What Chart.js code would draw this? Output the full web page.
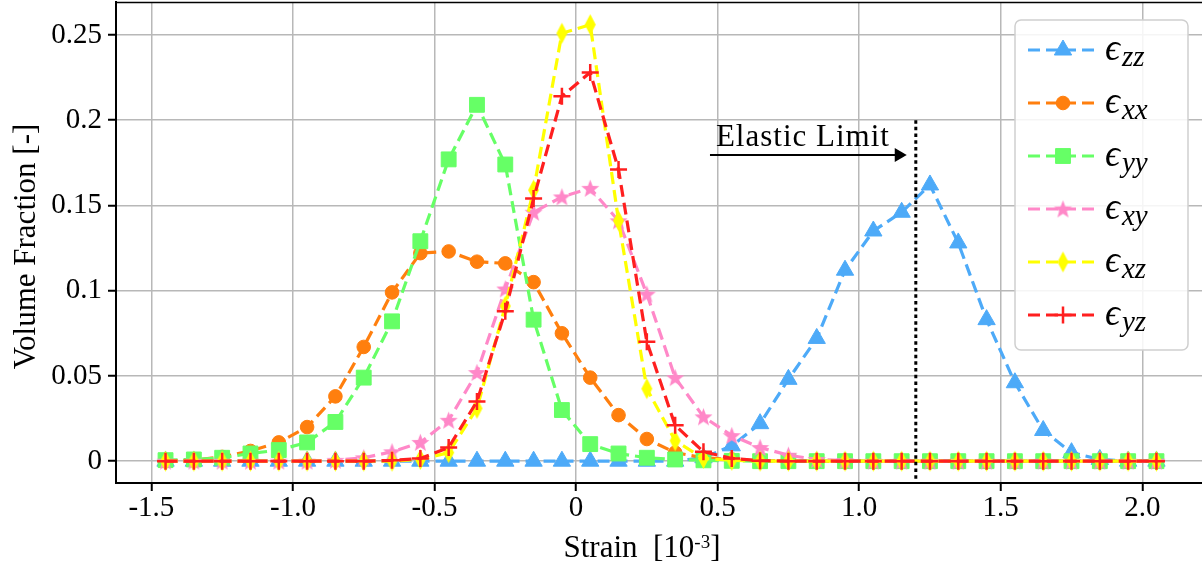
<!DOCTYPE html>
<html lang="en">
  <head>
    <meta charset="UTF-8" />
    <style>
      html,
      body {
        margin: 0;
        padding: 0;
        background: #fff;
        overflow: hidden;
      }
      #wrap {
        width: 1210px;
        height: 569px;
      }
    </style>
    <title>Strain distribution</title>
  </head>
  <body>
    <div id="wrap"><canvas id="graph"></canvas></div>

    <script src="https://cdn.jsdelivr.net/npm/chart.js"></script>
    <script>
      // strain bins [1e-3]
      const strain = [
        -1.45, -1.35, -1.25, -1.15, -1.05, -0.95, -0.85, -0.75, -0.65, -0.55,
        -0.45, -0.35, -0.25, -0.15, -0.05, 0.05, 0.15, 0.25, 0.35, 0.45, 0.55,
        0.65, 0.75, 0.85, 0.95, 1.05, 1.15, 1.25, 1.35, 1.45, 1.55, 1.65, 1.75,
        1.85, 1.95, 2.05,
      ];

      // volume fractions per strain component
      const ezz = [
        0, 0, 0, 0, 0, 0, 0, 0, 0, 0, 0, 0, 0, 0, 0, 0, 0, 0, 0, 0.002, 0.009,
        0.022, 0.048, 0.072, 0.112, 0.135, 0.146, 0.162, 0.128, 0.083, 0.046,
        0.018, 0.005, 0.001, 0, 0,
      ];
      const exx = [
        0, 0.0006, 0.0025, 0.006, 0.011, 0.02, 0.038, 0.067, 0.099, 0.122,
        0.123, 0.117, 0.116, 0.105, 0.075, 0.049, 0.027, 0.013, 0.005, 0.002,
        0.001, 0.0003, 0, 0, 0, 0, 0, 0, 0, 0, 0, 0, 0, 0, 0, 0,
      ];
      const eyy = [
        0.0006, 0.001, 0.002, 0.0045, 0.0065, 0.011, 0.023, 0.049, 0.082, 0.129,
        0.177, 0.209, 0.174, 0.083, 0.03, 0.01, 0.0045, 0.002, 0.001, 0.0005,
        0.0002, 0, 0, 0, 0, 0, 0, 0, 0, 0, 0, 0, 0, 0, 0, 0,
      ];
      const exy = [
        0, 0, 0, 0, 0, 0, 0.0005, 0.002, 0.0055, 0.011, 0.024, 0.052, 0.101,
        0.146, 0.155, 0.16, 0.141, 0.098, 0.049, 0.026, 0.015, 0.008, 0.0035,
        0.001, 0.0003, 0, 0, 0, 0, 0, 0, 0, 0, 0, 0, 0,
      ];
      const exz = [
        0, 0, 0, 0, 0, 0, 0, 0, 0, 0.001, 0.005, 0.031, 0.091, 0.159, 0.251,
        0.256, 0.141, 0.0425, 0.012, 0.0016, 0.0005, 0, 0, 0, 0, 0, 0, 0, 0, 0,
        0, 0, 0, 0, 0, 0,
      ];
      const eyz = [
        0, 0, 0, 0, 0, 0, 0, 0, 0.0005, 0.0016, 0.008, 0.035, 0.088, 0.154,
        0.214, 0.228, 0.171, 0.07, 0.021, 0.0055, 0.0016, 0.0003, 0, 0, 0, 0, 0,
        0, 0, 0, 0, 0, 0, 0, 0, 0,
      ];

      const xTicks = [-1.5, -1.0, -0.5, 0, 0.5, 1.0, 1.5, 2.0];
      const xTickLabels = ["-1.5", "-1.0", "-0.5", "0", "0.5", "1.0", "1.5", "2.0"];
      const yTicks = [0, 0.05, 0.1, 0.15, 0.2, 0.25];
      const yTickLabels = ["0", "0.05", "0.1", "0.15", "0.2", "0.25"];

      const elasticLimit = 1.2;
      const limitTop = 0.2;

      const serif = '"Liberation Serif", "DejaVu Serif", serif';
      const dash = [12, 6];

      // filled star and thin diamond markers (matplotlib "*" and "d")
      function starMarker(color, r) {
        const c = document.createElement("canvas");
        c.width = c.height = Math.ceil(2 * r + 2);
        const g = c.getContext("2d");
        g.translate(c.width / 2, c.height / 2 + r * 0.08);
        g.beginPath();
        for (let i = 0; i < 10; i++) {
          const rr = i % 2 ? r * 0.42 : r;
          const a = (i * Math.PI) / 5 - Math.PI / 2;
          g.lineTo(Math.cos(a) * rr, Math.sin(a) * rr);
        }
        g.closePath();
        g.fillStyle = color;
        g.fill();
        return c;
      }
      function diamondMarker(color, w, h) {
        const c = document.createElement("canvas");
        c.width = w + 2;
        c.height = h + 2;
        const g = c.getContext("2d");
        g.translate(c.width / 2, c.height / 2);
        g.beginPath();
        g.moveTo(0, -h / 2);
        g.lineTo(w / 2, 0);
        g.lineTo(0, h / 2);
        g.lineTo(-w / 2, 0);
        g.closePath();
        g.fillStyle = color;
        g.fill();
        return c;
      }

      const series = [
        { sub: "zz", data: ezz, color: "#4daaf8", style: "triangle", radius: 10, bw: 1 },
        { sub: "xx", data: exx, color: "#ff7f0e", style: "circle", radius: 6.8, bw: 1 },
        { sub: "yy", data: eyy, color: "#66ff66", style: "rect", radius: 10.5, bw: 1 },
        { sub: "xy", data: exy, color: "#ff88c8", style: starMarker("#ff88c8", 9.5), radius: 9, bw: 0 },
        { sub: "xz", data: exz, color: "#ffff00", style: diamondMarker("#ffff00", 11, 21), radius: 10, bw: 0 },
        { sub: "yz", data: eyz, color: "#ff1f1f", style: "cross", radius: 8.5, bw: 2.5 },
      ];

      const datasets = series.map((s, i) => ({
        label: s.sub,
        data: strain.map((x, j) => ({ x: x, y: s.data[j] })),
        borderColor: s.color,
        backgroundColor: s.color,
        borderWidth: 3.2,
        borderDash: dash,
        pointStyle: s.style,
        pointRadius: s.radius,
        pointBorderWidth: s.bw,
        pointBackgroundColor: s.color,
        pointBorderColor: s.color,
        tension: 0,
        clip: false,
        order: series.length - i,
      }));

      const extras = {
        id: "extras",
        afterDatasetsDraw(chart) {
          const { ctx, chartArea, scales } = chart;
          const x = scales.x;
          const y = scales.y;
          ctx.save();

          // elastic limit marker
          const lx = x.getPixelForValue(elasticLimit);
          ctx.strokeStyle = "#000";
          ctx.lineWidth = 3;
          ctx.setLineDash([3.5, 3.2]);
          ctx.beginPath();
          ctx.moveTo(lx, y.getPixelForValue(limitTop));
          ctx.lineTo(lx, chartArea.bottom);
          ctx.stroke();
          ctx.setLineDash([]);

          const ay = y.getPixelForValue(0.1795);
          const ax0 = x.getPixelForValue(0.473);
          const ax1 = x.getPixelForValue(1.168);
          ctx.lineWidth = 2;
          ctx.beginPath();
          ctx.moveTo(ax0, ay);
          ctx.lineTo(ax1 - 6, ay);
          ctx.stroke();
          ctx.fillStyle = "#000";
          ctx.beginPath();
          ctx.moveTo(ax1, ay);
          ctx.lineTo(ax1 - 12, ay - 7);
          ctx.lineTo(ax1 - 12, ay + 7);
          ctx.closePath();
          ctx.fill();

          ctx.font = "31px " + serif;
          ctx.letterSpacing = "1px";
          ctx.textAlign = "left";
          ctx.textBaseline = "alphabetic";
          ctx.fillText("Elastic Limit", x.getPixelForValue(0.494), y.getPixelForValue(0.1848));
          ctx.letterSpacing = "0px";
          ctx.restore();
        },
        afterDraw(chart) {
          const { ctx, chartArea } = chart;
          ctx.save();

          // top spine
          ctx.strokeStyle = "#000";
          ctx.lineWidth = 1.5;
          ctx.beginPath();
          ctx.moveTo(chartArea.left, chartArea.top + 0.5);
          ctx.lineTo(chartArea.right, chartArea.top + 0.5);
          ctx.stroke();

          // axis titles
          ctx.fillStyle = "#000";
          ctx.font = "31px " + serif;
          ctx.textBaseline = "alphabetic";
          ctx.textAlign = "center";
          ctx.save();
          ctx.translate(35, (chartArea.top + chartArea.bottom) / 2 + 4);
          ctx.rotate(-Math.PI / 2);
          ctx.fillText("Volume Fraction [-]", 0, 0);
          ctx.restore();

          const main = "Strain  [10";
          ctx.textAlign = "left";
          ctx.font = "31px " + serif;
          const w1 = ctx.measureText(main).width;
          ctx.font = "19px " + serif;
          const w2 = ctx.measureText("-3").width;
          ctx.font = "31px " + serif;
          const w3 = ctx.measureText("]").width;
          const cx = (chartArea.left + chartArea.right) / 2 - 19;
          let tx = cx - (w1 + w2 + w3) / 2;
          const base = chartArea.bottom + 74;
          ctx.fillText(main, tx, base);
          ctx.font = "19px " + serif;
          ctx.fillText("-3", tx + w1, base - 9);
          ctx.font = "31px " + serif;
          ctx.fillText("]", tx + w1 + w2, base);

          // legend
          const bw = 173;
          const bh = 330;
          const bx = chartArea.right - 18 - bw;
          const by = chartArea.top + 18;
          ctx.beginPath();
          ctx.roundRect(bx, by, bw, bh, 6);
          ctx.fillStyle = "rgba(255,255,255,0.85)";
          ctx.fill();
          ctx.strokeStyle = "#cfcfcf";
          ctx.lineWidth = 1.5;
          ctx.stroke();

          series.forEach((s, i) => {
            const ry = by + 30 + i * 53;
            ctx.strokeStyle = s.color;
            ctx.fillStyle = s.color;
            ctx.lineWidth = 3.2;
            ctx.setLineDash(dash);
            ctx.beginPath();
            ctx.moveTo(bx + 13, ry);
            ctx.lineTo(bx + 79, ry);
            ctx.stroke();
            ctx.setLineDash([]);
            const mx = bx + 48;
            if (typeof s.style !== "string") {
              ctx.drawImage(s.style, mx - s.style.width / 2, ry - s.style.height / 2);
            } else if (Chart.helpers && Chart.helpers.drawPoint) {
              ctx.lineWidth = s.bw;
              Chart.helpers.drawPoint(
                ctx,
                { pointStyle: s.style, radius: s.radius, rotation: 0, borderWidth: s.bw },
                mx,
                ry
              );
            }
            ctx.fillStyle = "#000";
            ctx.font = "italic 37px " + serif;
            ctx.fillText("ϵ", bx + 90, ry + 10);
            const ew = ctx.measureText("ϵ").width;
            ctx.font = "italic 29px " + serif;
            ctx.fillText(s.sub, bx + 92 + ew, ry + 16);
          });
          ctx.restore();
        },
      };

      new Chart(document.querySelector("#graph").getContext("2d"), {
        type: "line",
        data: { datasets: datasets },
        options: {
          responsive: true,
          maintainAspectRatio: false,
          animation: false,
          layout: { autoPadding: false, padding: { top: 2, right: 4, left: 0, bottom: 0 } },
          plugins: { legend: { display: false }, tooltip: { enabled: false } },
          scales: {
            x: {
              type: "linear",
              min: -1.625,
              max: 2.225,
              afterBuildTicks: (axis) => {
                axis.ticks = xTicks.map((v) => ({ value: v }));
              },
              afterFit: (axis) => {
                axis.height = 86;
                axis.paddingLeft = 0;
                axis.paddingRight = 0;
              },
              ticks: {
                callback: (v, i) => xTickLabels[i],
                font: { family: serif, size: 29 },
                color: "#000",
                padding: 0,
                maxRotation: 0,
                autoSkip: false,
              },
              grid: {
                color: "#b8b8b8",
                lineWidth: 1.5,
                tickColor: "#000",
                tickLength: 8,
                tickWidth: 2,
              },
              border: { color: "#000", width: 2 },
            },
            y: {
              min: -0.0128,
              max: 0.2693,
              afterBuildTicks: (axis) => {
                axis.ticks = yTicks.map((v) => ({ value: v }));
              },
              afterFit: (axis) => {
                axis.width = 116;
                axis.paddingTop = 0;
                axis.paddingBottom = 0;
              },
              ticks: {
                callback: (v, i) => yTickLabels[i],
                font: { family: serif, size: 29 },
                color: "#000",
                padding: 6,
                autoSkip: false,
              },
              grid: {
                color: "#b8b8b8",
                lineWidth: 1.5,
                tickColor: "#000",
                tickLength: 8,
                tickWidth: 2,
              },
              border: { color: "#000", width: 2 },
            },
          },
        },
        plugins: [extras],
      });
    </script>
  </body>
</html>
